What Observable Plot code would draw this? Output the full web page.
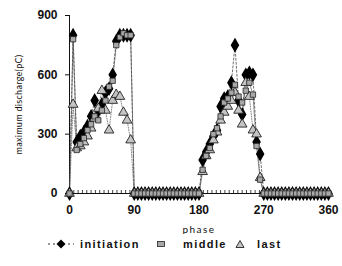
<!DOCTYPE html>
<html><head><meta charset="utf-8">
<script src="https://cdn.jsdelivr.net/npm/d3@7"></script>
<script src="https://cdn.jsdelivr.net/npm/@observablehq/plot@0.6"></script>
<style>
body{margin:0;background:#fff;}
#c{width:342px;height:266px;position:relative;overflow:hidden;}
#legend{position:absolute;left:0;top:234px;width:342px;height:20px;font-family:"Liberation Sans",Arial,sans-serif;font-weight:bold;font-size:11px;letter-spacing:1.4px;color:#111;}
#legend .s,#legend .t{position:absolute;top:0;display:flex;align-items:center;height:20px;}
</style></head>
<body><div id="c"><div id="plot"></div><div id="legend"></div></div>
<script>
const phases = [0,5,10,15,20,25,30,35,40,45,50,55,60,65,70,75,80,85,90,
  95,100,105,110,115,120,125,130,135,140,145,150,155,160,165,170,175,
  180,185,190,195,200,205,210,215,220,225,230,235,240,245,250,255,260,265,270,
  275,280,285,290,295,300,305,310,315,320,325,330,335,340,345,350,355,360];
const seriesNames = ["initiation","middle","last"];
const initiation = [0,800,260,290,310,340,390,470,420,450,510,530,600,770,800,800,800,800,0,
  0,0,0,0,0,0,0,0,0,0,0,0,0,0,0,0,0,
  0,170,210,250,290,320,440,480,490,560,750,470,400,600,610,600,260,200,0,
  0,0,0,0,0,0,0,0,0,0,0,0,0,0,0,0,0,0];
const middle = [0,780,220,250,280,320,350,390,370,420,470,540,570,750,790,810,800,800,0,
  0,0,0,0,0,0,0,0,0,0,0,0,0,0,0,0,0,
  0,120,190,230,300,330,390,460,480,510,550,490,460,520,560,500,240,70,0,
  0,0,0,0,0,0,0,0,0,0,0,0,0,0,0,0,0,0];
const last = [0,450,230,240,260,290,330,380,430,520,420,320,470,500,490,410,370,270,0,
  0,0,0,0,0,0,0,0,0,0,0,0,0,0,0,0,0,
  0,110,190,220,270,310,370,410,440,470,510,420,350,560,490,320,300,80,0,
  0,0,0,0,0,0,0,0,0,0,0,0,0,0,0,0,0,0];
const yTicks = [0,300,600,900];
const xTicks = [0,90,180,270,360];
const minorX = [0,6,12,18,24,30,36,42,48,54,60,66,72,78,84,90,96,102,108,114,120,126,132,138,144,150,156,162,168,174,180,186,192,198,204,210,216,222,228,234,240,246,252,258,264,270,276,282,288,294,300,306,312,318,324,330,336,342,348,354,360];

const rows = s => phases.map((p,i)=>({phase:p, value:s[i]}));
const dI = rows(initiation), dM = rows(middle), dL = rows(last);

const plot = Plot.plot({
  width: 342, height: 234,
  marginLeft: 69, marginRight: 14, marginTop: 15, marginBottom: 41,
  style: {fontFamily: "Liberation Sans, Arial, sans-serif", background: "#fff", color: "#111"},
  x: {domain: [0,360]},
  y: {domain: [0,900]},
  marks: [
    Plot.axisX({ticks: minorX, tickSize: -3, tickFormat: () => "", label: null, strokeWidth: 0.8}),
    Plot.axisX({ticks: xTicks, tickSize: 0, tickPadding: 12, fontSize: 12, fontWeight: "bold",
      label: "phase", labelAnchor: "center", labelArrow: "none", labelOffset: 39}),
    Plot.axisY({ticks: yTicks, tickSize: 4, tickPadding: 8, fontSize: 12, fontWeight: "bold",
      label: "maximum discharge(pC)", labelAnchor: "center", labelArrow: "none", labelOffset: 54}),
    Plot.ruleX([0], {stroke: "#111", strokeWidth: 1}),
    Plot.ruleY([0], {stroke: "#111", strokeWidth: 1}),
    Plot.line(dI, {x: "phase", y: "value", stroke: "#333", strokeWidth: 0.7, strokeDasharray: "2,2"}),
    Plot.line(dM, {x: "phase", y: "value", stroke: "#444", strokeWidth: 0.6}),
    Plot.line(dL, {x: "phase", y: "value", stroke: "#555", strokeWidth: 0.7, strokeDasharray: "1,1.5"}),
    Plot.dot(dI, {x: "phase", y: "value", symbol: "diamond", r: 3.6, fill: "#000", stroke: "#000"}),
    Plot.dot(dL, {x: "phase", y: "value", symbol: "triangle", r: 3.6, fill: "#c4c4c4", stroke: "#222", strokeWidth: 0.9}),
    Plot.dot(dM, {x: "phase", y: "value", symbol: "square", r: 3, fill: "#a8a8a8", stroke: "#222", strokeWidth: 0.8})
  ]
});
document.getElementById("plot").appendChild(plot);
plot.querySelectorAll("text").forEach(t => {
  const s = t.textContent;
  if (s === "maximum discharge(pC)") { t.setAttribute("font-weight","normal"); t.setAttribute("font-size","9"); t.style.fontFamily = "Lato, sans-serif"; t.setAttribute("letter-spacing","0.3"); }
  if (s === "phase") { t.setAttribute("font-weight","normal"); t.setAttribute("font-size","10"); t.style.fontFamily = "Lato, sans-serif"; t.setAttribute("letter-spacing","1.5"); }
});

const legend = document.getElementById("legend");
const syms = {
  initiation: '<svg width="26" height="12"><line x1="0" y1="6" x2="26" y2="6" stroke="#333" stroke-dasharray="2,3"/><path d="M13 1.5 L17.5 6 L13 10.5 L8.5 6 Z" fill="#000"/></svg>',
  middle: '<svg width="12" height="12"><rect x="2.5" y="3.5" width="7" height="5" fill="#a8a8a8" stroke="#222" stroke-width="0.8"/></svg>',
  last: '<svg width="12" height="12"><path d="M6 2.5 L10 9.5 L2 9.5 Z" fill="#c4c4c4" stroke="#222" stroke-width="0.9"/></svg>'
};
const symX = {initiation: 48, middle: 155, last: 234};
const txtX = {initiation: 80, middle: 183, last: 257};
seriesNames.forEach(n => {
  const s = document.createElement("div");
  s.className = "s"; s.style.left = symX[n] + "px"; s.innerHTML = syms[n];
  const t = document.createElement("div");
  t.className = "t"; t.style.left = txtX[n] + "px"; t.textContent = n;
  legend.appendChild(s); legend.appendChild(t);
});
</script>
</body></html>
